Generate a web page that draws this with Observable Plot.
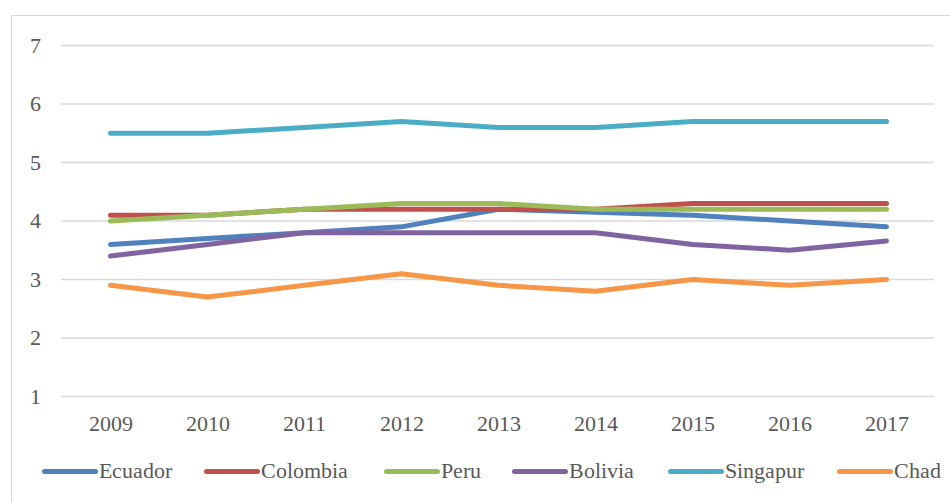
<!DOCTYPE html>
<html>
<head>
<meta charset="utf-8">
<style>
  @font-face { font-family: 'RefSerif'; src: local('Liberation Serif'), local('LiberationSerif'), local('Liberation Serif Regular'), local('LiberationSerif-Regular'), local('Times New Roman'); font-weight: 400; font-style: normal; }
  html, body { margin: 0; padding: 0; background: #fff; width: 950px; height: 502px; overflow: hidden; font-family: 'RefSerif', 'Liberation Serif', serif; }
  #frame { position: absolute; left: 11px; top: 15px; width: 960px; height: 520px; border: 1.5px solid #d9d9d9; box-sizing: border-box; }
  #chart { position: absolute; left: 0; top: 0; }
  #legend { position: absolute; left: 0; top: 456px; width: 950px; height: 30px; font-size: 22px; color: #595959; font-family: 'RefSerif', 'Liberation Serif', serif; }
  .item { position: absolute; top: 0; display: flex; align-items: center; height: 30px; white-space: nowrap; }
  .sw { display: inline-block; width: 56px; height: 5px; border-radius: 3px; margin-right: 1px; }
</style>
<script src="https://cdn.jsdelivr.net/npm/d3@7"></script>
<script src="https://cdn.jsdelivr.net/npm/@observablehq/plot@0.6"></script>
</head>
<body>
<div id="frame"></div>
<div id="chart"></div>
<div id="legend"></div>
<script>
const years = [2009, 2010, 2011, 2012, 2013, 2014, 2015, 2016, 2017];
const seriesNames = ["Ecuador", "Colombia", "Peru", "Bolivia", "Singapur", "Chad"];
const seriesColors = ["#4F81BD", "#C0504D", "#9BBB59", "#8064A2", "#4BACC6", "#F79646"];
const ecuador  = [3.6, 3.7, 3.8, 3.9, 4.2, 4.15, 4.1, 4.0, 3.9];
const colombia = [4.1, 4.1, 4.2, 4.2, 4.2, 4.2, 4.3, 4.3, 4.3];
const peru     = [4.0, 4.1, 4.2, 4.3, 4.3, 4.2, 4.2, 4.2, 4.2];
const bolivia  = [3.4, 3.6, 3.8, 3.8, 3.8, 3.8, 3.6, 3.5, 3.66];
const singapur = [5.5, 5.5, 5.6, 5.7, 5.6, 5.6, 5.7, 5.7, 5.7];
const chad     = [2.9, 2.7, 2.9, 3.1, 2.9, 2.8, 3.0, 2.9, 3.0];
const yTicks = [1, 2, 3, 4, 5, 6, 7];

const seriesValues = [ecuador, colombia, peru, bolivia, singapur, chad];
const data = [];
seriesNames.forEach((name, i) => {
  years.forEach((yr, j) => data.push({ series: name, year: yr, value: seriesValues[i][j] }));
});

const fontStack = "RefSerif, 'Liberation Serif', serif";
const plot = Plot.plot({
  width: 950,
  height: 440,
  marginTop: 45,
  marginBottom: 44,
  marginLeft: 61,
  marginRight: 16,
  style: { fontFamily: fontStack, fontSize: "22px", color: "#595959", background: "transparent", overflow: "visible" },
  x: { type: "point", domain: years, padding: 0.5, label: null },
  y: { domain: [1, 7], label: null },
  marks: [
    Plot.ruleY(yTicks, { stroke: "#d9d9d9", strokeWidth: 1.5 }),
    Plot.axisX({ tickSize: 0, tickPadding: 19, tickFormat: d => String(d), fill: "#595959", fontSize: 22, fontFamily: fontStack, label: null }),
    Plot.axisY(yTicks, { tickSize: 0, tickPadding: 21, tickFormat: d => String(d), fill: "#595959", fontSize: 22, fontFamily: fontStack, label: null }),
    ...seriesNames.map((name, i) =>
      Plot.line(data.filter(d => d.series === name), {
        x: "year", y: "value", stroke: seriesColors[i],
        strokeWidth: 5, strokeLinecap: "round", strokeLinejoin: "round"
      })
    )
  ]
});
document.getElementById("chart").appendChild(plot);

const legendX = [42, 204, 384, 512, 668, 837];
const legend = document.getElementById("legend");
seriesNames.forEach((name, i) => {
  const item = document.createElement("div");
  item.className = "item";
  item.style.left = legendX[i] + "px";
  const sw = document.createElement("span");
  sw.className = "sw";
  sw.style.background = seriesColors[i];
  const t = document.createElement("span");
  t.textContent = name;
  t.style.fontFamily = fontStack;
  item.appendChild(sw);
  item.appendChild(t);
  legend.appendChild(item);
});
</script>
</body>
</html>
